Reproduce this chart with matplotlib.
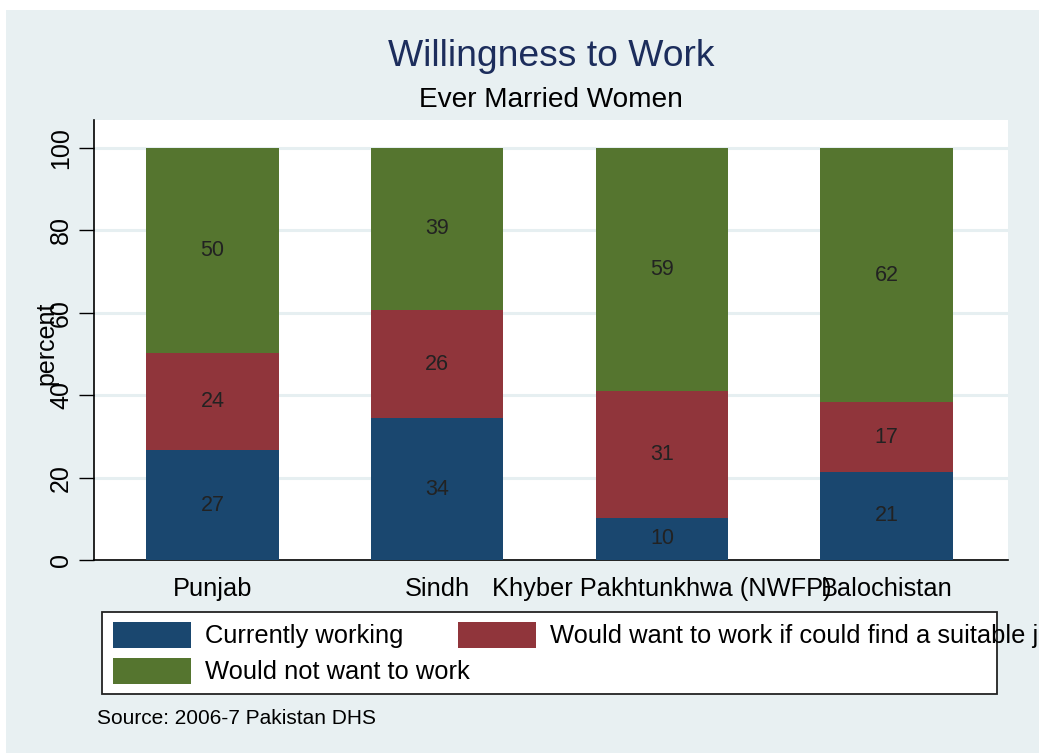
import matplotlib.pyplot as plt
from matplotlib.patches import Rectangle

regions = ["Punjab", "Sindh", "Khyber Pakhtunkhwa (NWFP)", "Balochistan"]
series_names = [
    "Currently working",
    "Would want to work if could find a suitable job",
    "Would not want to work",
]
currently_working = [26.6, 34.4, 10.2, 21.4]
would_want = [23.7, 26.3, 30.9, 16.9]
would_not = [49.7, 39.3, 58.9, 61.7]
colors = ["#1a476f", "#90353b", "#55752f"]
yticks = [0, 20, 40, 60, 80, 100]

W, H = 1039, 753
bg = "#e8f0f2"


def fx(x):
    return x / W


def fy(y):
    return 1 - y / H


plt.rcParams["font.family"] = ["Liberation Sans", "DejaVu Sans"]

fig = plt.figure(figsize=(W / 100, H / 100), dpi=100, facecolor="white")
fig.add_artist(Rectangle((fx(6), 0), 1, fy(10), transform=fig.transFigure,
                         facecolor=bg, edgecolor="none", zorder=-10))

ax = fig.add_axes([fx(94), fy(560), fx(1008) - fx(94), fy(120) - fy(560)])
ax.set_facecolor("white")

x = list(range(len(regions)))
bottom = [0] * len(regions)
for vals, color in zip([currently_working, would_want, would_not], colors):
    bars = ax.bar(x, vals, width=0.59, bottom=bottom, color=color, zorder=3)
    for rect, v, b in zip(bars, vals, bottom):
        ax.text(rect.get_x() + rect.get_width() / 2, b + v / 2, "%.0f" % v,
                ha="center", va="center", fontsize=15.5, color="#222222", zorder=4)
    bottom = [b + v for b, v in zip(bottom, vals)]

ax.set_xlim(-0.527, 3.54)
ax.set_ylim(0, 106.8)
ax.set_yticks(yticks)
ax.set_yticklabels([str(t) for t in yticks], rotation=90, va="center")
ax.tick_params(axis="y", length=11, width=1, pad=4, labelsize=18)
ax.set_xticks(x)
ax.set_xticklabels(regions)
ax.tick_params(axis="x", length=0, pad=12, labelsize=18.3)
for t in yticks[1:]:
    ax.axhline(t, color="#e6eff1", lw=2.2, zorder=1)
ax.spines["top"].set_visible(False)
ax.spines["right"].set_visible(False)
ax.spines["left"].set_linewidth(1.2)
ax.spines["bottom"].set_linewidth(1.2)

fig.text(fx(46), fy(343), "percent", rotation=90, ha="center", va="center", fontsize=18)

fig.text(fx(551), fy(57), "Willingness to Work", ha="center", va="center",
         fontsize=26.8, color="#1c2d5c")
fig.text(fx(551), fy(100), "Ever Married Women", ha="center", va="center", fontsize=20.2)

# legend drawn by hand so the long label can run past the frame like the original
fig.add_artist(Rectangle((fx(102), fy(694)), fx(997) - fx(102), fy(612) - fy(694),
                         transform=fig.transFigure, facecolor="white",
                         edgecolor="#222222", lw=1.3))
slots = [(113, 622), (458, 622), (113, 658)]
for name, color, (lx, ly) in zip(series_names, colors, slots):
    fig.add_artist(Rectangle((fx(lx), fy(ly + 26)), fx(78), 26 / H,
                             transform=fig.transFigure, facecolor=color,
                             edgecolor="none"))
    fig.text(fx(lx + 92), fy(ly + 14), name, ha="left", va="center", fontsize=18.4)

fig.text(fx(97), fy(718), "Source: 2006-7 Pakistan DHS", ha="left", va="center",
         fontsize=15)

fig.savefig("out.png", dpi=100, facecolor=fig.get_facecolor())
